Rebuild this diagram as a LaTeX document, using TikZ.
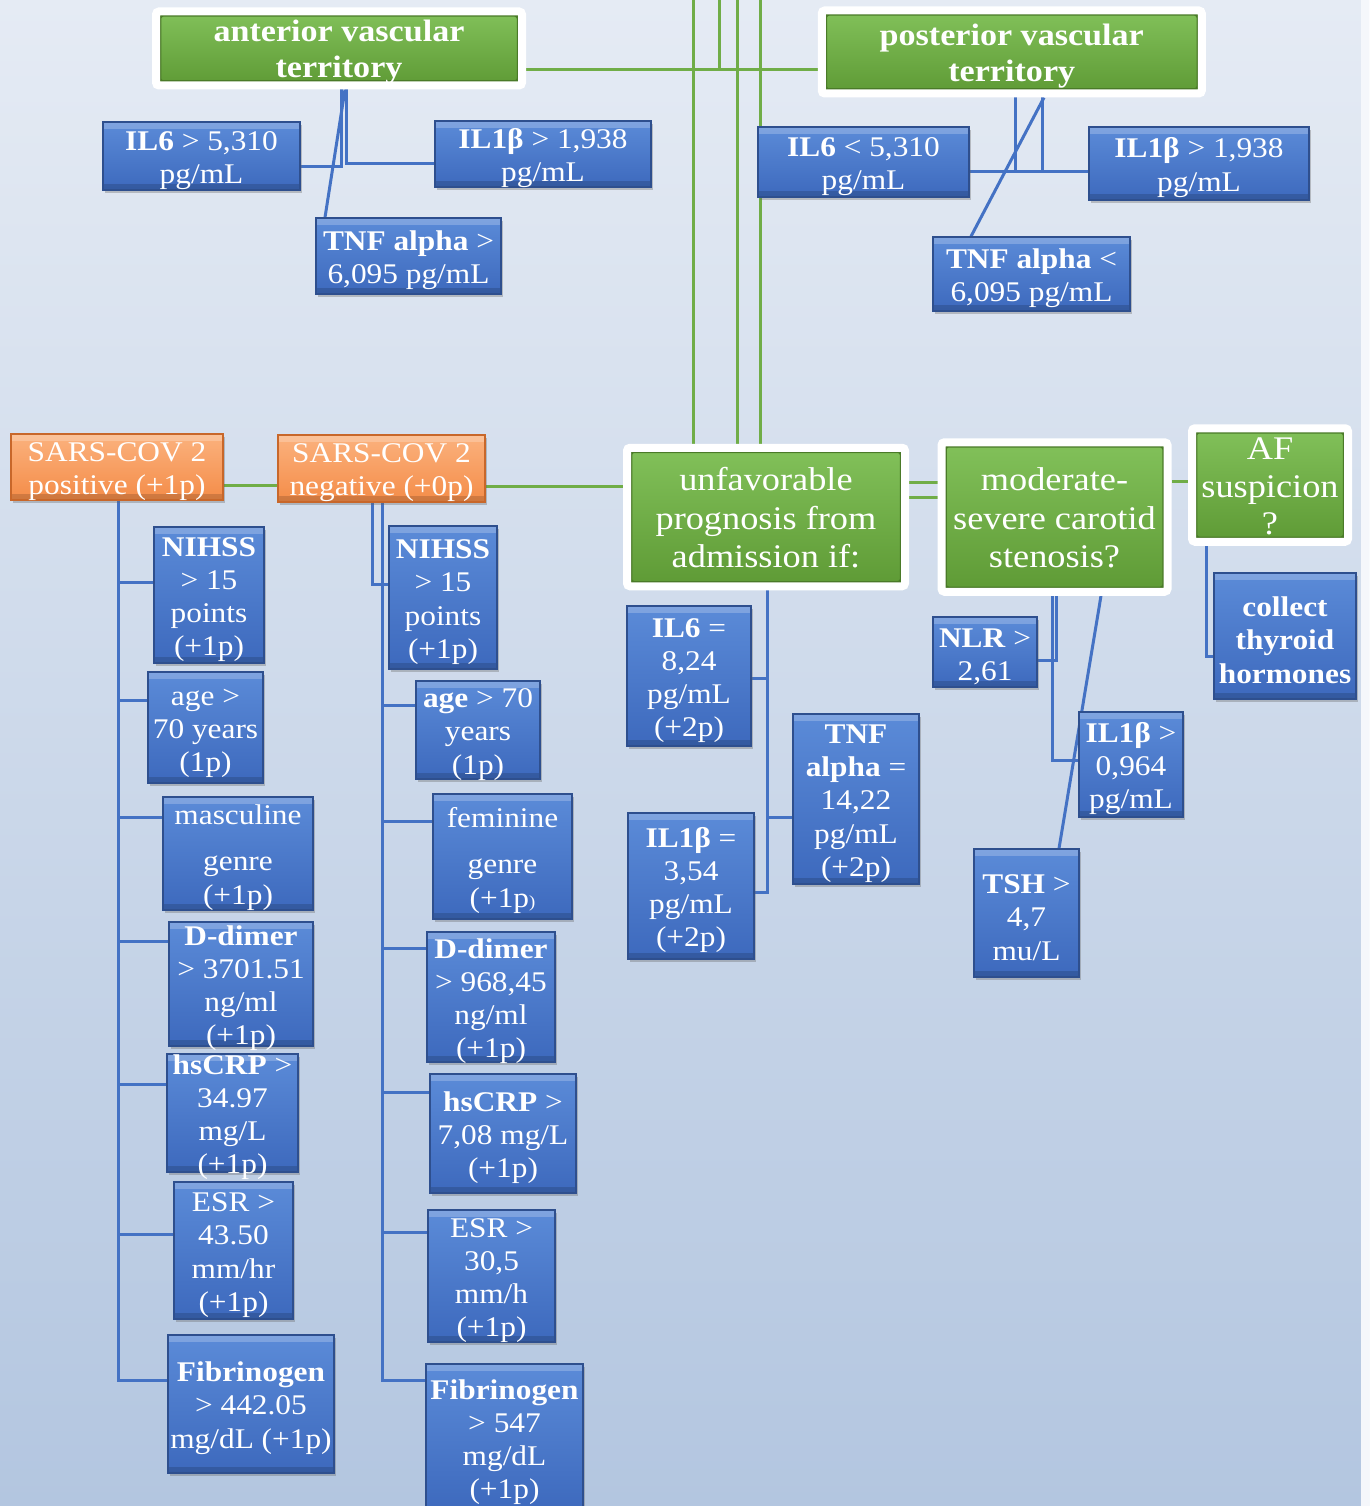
\documentclass[tikz,border=0pt]{standalone}
\usepackage{fontspec}
\setmainfont[FakeStretch=1.1]{Liberation Serif}
\usetikzlibrary{shadows}
\definecolor{bgtop}{HTML}{E5EBF4}
\definecolor{bgbot}{HTML}{B3C6E0}
\definecolor{bluetop}{HTML}{5B8BD8}
\definecolor{bluebot}{HTML}{3D69BD}
\definecolor{blueedge}{HTML}{2E4F8E}
\definecolor{blueline}{HTML}{4472C4}
\definecolor{greentop}{HTML}{82C15A}
\definecolor{greenbot}{HTML}{5E9A35}
\definecolor{greenedge}{HTML}{4A7A28}
\definecolor{greenline}{HTML}{70AD47}
\definecolor{orangetop}{HTML}{FBB27E}
\definecolor{orangebot}{HTML}{F48C48}
\definecolor{orangeedge}{HTML}{C8672A}
\newcommand{\bst}{\rule{0pt}{28pt}}
\newcommand{\gst}{\rule{0pt}{25pt}}
\pgfdeclarelayer{bgfill}
\pgfdeclarelayer{background}
\pgfsetlayers{bgfill,background,main}
\tikzset{
  box/.style={rectangle, inner sep=-12pt, align=center, text=white,
    drop shadow={shadow xshift=2pt, shadow yshift=-3pt, opacity=0.35, fill=black!60}},
  bevel/.style={path picture={
    \fill[white, opacity=0.22] (path picture bounding box.north west) rectangle ([yshift=-7pt]path picture bounding box.north east);
    \fill[black, opacity=0.15] (path picture bounding box.south west) rectangle ([yshift=6pt]path picture bounding box.south east);}},
  bluebox/.style={box, bevel, top color=bluetop, bottom color=bluebot, draw=blueedge, line width=1.2pt,
    font=\fontsize{28.5}{33.3}\selectfont},
  orangebox/.style={box, bevel, top color=orangetop, bottom color=orangebot, draw=orangeedge, line width=1.2pt,
    font=\fontsize{28.5}{33}\selectfont},
  greenbox/.style={box, top color=greentop, bottom color=greenbot, draw=white, line width=8pt, rounded corners=3pt,
    font=\fontsize{33}{38.5}\selectfont,
    path picture={\draw[greenedge, line width=2.5pt] ([shift={(4pt,-4pt)}]path picture bounding box.north west) rectangle ([shift={(-4pt,4pt)}]path picture bounding box.south east);}},
  bline/.style={draw=blueline, line width=3pt},
  gline/.style={draw=greenline, line width=3pt}
}
\begin{document}
\begin{tikzpicture}[x=1pt, y=-1pt]
\useasboundingbox (0,0) rectangle (1369,1506);
\begin{pgfonlayer}{bgfill}
  \shade[top color=bgtop, bottom color=bgbot] (0,0) rectangle (1369,1506);
  \fill[white!60!bgtop] (1361,0) rectangle (1369,1506);
\end{pgfonlayer}

% top green boxes
\node[greenbox, font=\bfseries\fontsize{31}{36}\selectfont, minimum width=366pt, minimum height=74pt] (ant) at (339,48.5) {\rule{0pt}{29pt}anterior vascular\\territory};
\node[greenbox, font=\bfseries\fontsize{31}{36}\selectfont, minimum width=380pt, minimum height=83pt] (post) at (1011.75,52) {\rule{0pt}{29pt}posterior vascular\\territory};

% top blue boxes
\node[bluebox, minimum width=197pt, minimum height=68pt] (il6a) at (201.5,156) {\bst\textbf{IL6} > 5,310\\pg/mL};
\node[bluebox, minimum width=216pt, minimum height=66pt] (il1a) at (543,154) {\bst\textbf{IL1β} > 1,938\\pg/mL};
\node[bluebox, minimum width=185pt, minimum height=76pt] (tnfa) at (408.5,256) {\bst\textbf{TNF alpha} >\\6,095 pg/mL};
\node[bluebox, minimum width=211pt, minimum height=70pt] (il6p) at (863.5,162) {\bst\textbf{IL6} < 5,310\\pg/mL};
\node[bluebox, minimum width=220pt, minimum height=73pt] (il1p) at (1199,163.5) {\bst\textbf{IL1β} > 1,938\\pg/mL};
\node[bluebox, minimum width=197pt, minimum height=74pt] (tnfp) at (1031.5,274) {\bst\textbf{TNF alpha} <\\6,095 pg/mL};

% middle row
\node[orangebox, minimum width=212pt, minimum height=66pt] (pos) at (117,467) {\bst SARS-COV 2\\positive (+1p)};
\node[orangebox, minimum width=207pt, minimum height=67pt] (neg) at (381.5,468.5) {\bst SARS-COV 2\\negative (+0p)};
\node[greenbox, minimum width=278pt, minimum height=138.5pt] (unf) at (766,517) {\gst unfavorable\\prognosis from\\admission if:};
\node[greenbox, minimum width=226pt, minimum height=149.5pt] (mod) at (1054.5,517) {\gst moderate-\\severe carotid\\stenosis?};
\node[greenbox, font=\fontsize{33}{37.5}\selectfont, minimum width=156pt, minimum height=113.5pt] (af) at (1270,485) {\gst AF\\suspicion\\?};

% below unfavorable
\node[bluebox, minimum width=124pt, minimum height=140pt] (il6u) at (689,676) {\bst\textbf{IL6} =\\8,24\\pg/mL\\(+2p)};
\node[bluebox, minimum width=126pt, minimum height=170pt] (tnfu) at (856,799) {\bst\textbf{TNF}\\\textbf{alpha} =\\14,22\\pg/mL\\(+2p)};
\node[bluebox, minimum width=126pt, minimum height=146pt] (il1u) at (691,886) {\bst\textbf{IL1β} =\\3,54\\pg/mL\\(+2p)};

% below moderate
\node[bluebox, minimum width=104pt, minimum height=70pt] (nlr) at (985,652) {\bst\textbf{NLR} >\\2,61};
\node[bluebox, minimum width=104pt, minimum height=105pt] (il1m) at (1131,764.5) {\bst\textbf{IL1β} >\\0,964\\pg/mL};
\node[bluebox, minimum width=105pt, minimum height=128pt] (tsh) at (1026.5,913) {\bst\textbf{TSH} >\\4,7\\mu/L};
\node[bluebox, font=\bfseries\fontsize{28.5}{33.3}\selectfont, minimum width=142pt, minimum height=126pt] (coll) at (1285,636) {\bst collect\\thyroid\\hormones};

% positive column
\node[bluebox, minimum width=110pt, minimum height=136pt] (nihss1) at (209,595) {\bst\textbf{NIHSS}\\> 15\\points\\(+1p)};
\node[bluebox, minimum width=115pt, minimum height=111pt] (age1) at (205.5,727.5) {\bst age >\\70 years\\(1p)};
\node[bluebox, minimum width=150pt, minimum height=113pt] (masc1) at (238,853.5) {\bst masculine\\[13pt]genre\\(+1p)};
\node[bluebox, minimum width=144pt, minimum height=124pt] (ddim1) at (241,984) {\bst\textbf{D-dimer}\\> 3701.51\\ng/ml\\(+1p)};
\node[bluebox, minimum width=131pt, minimum height=118pt] (hscrp1) at (232.5,1113) {\bst\textbf{hsCRP} >\\34.97\\mg/L\\(+1p)};
\node[bluebox, minimum width=119pt, minimum height=137pt] (esr1) at (233.5,1250.5) {\bst ESR >\\43.50\\mm/hr\\(+1p)};
\node[bluebox, minimum width=166pt, minimum height=138pt] (fib1) at (251,1404) {\bst\textbf{Fibrinogen}\\> 442.05\\mg/dL (+1p)};

% negative column
\node[bluebox, minimum width=108pt, minimum height=143pt] (nihss2) at (443,597.5) {\bst\textbf{NIHSS}\\> 15\\points\\(+1p)};
\node[bluebox, minimum width=124pt, minimum height=98pt] (age2) at (478,730) {\bst\textbf{age} > 70\\years\\(1p)};
\node[bluebox, minimum width=139pt, minimum height=125pt] (fem2) at (502.5,856.5) {\bst feminine\\[13pt]genre\\(+1p{\fontsize{17}{17}\selectfont)}};
\node[bluebox, minimum width=128pt, minimum height=130pt] (ddim2) at (491,997) {\bst\textbf{D-dimer}\\> 968,45\\ng/ml\\(+1p)};
\node[bluebox, minimum width=146pt, minimum height=119pt] (hscrp2) at (503,1133.5) {\bst\textbf{hsCRP} >\\7,08 mg/L\\(+1p)};
\node[bluebox, minimum width=127pt, minimum height=132pt] (esr2) at (491.5,1276) {\bst ESR >\\30,5\\mm/h\\(+1p)};
\node[bluebox, minimum width=157pt, minimum height=148pt] (fib2) at (504.5,1438) {\bst\textbf{Fibrinogen}\\> 547\\mg/dL\\(+1p)};

\begin{pgfonlayer}{background}
  % green connectors
  \coordinate (g1) at (693,0);
  \coordinate (g2) at (719,0);
  \coordinate (g3) at (737,0);
  \coordinate (g4) at (760,0);
  \coordinate (g2e) at (719,70);
  \draw[gline] (g1) -- (g1 |- unf.north);
  \draw[gline] (g3) -- (g3 |- unf.north);
  \draw[gline] (g4) -- (g4 |- unf.north);
  \draw[gline] (g2) -- (g2e);
  \draw[gline] (ant.east |- g2e) -- (post.west |- g2e);
  \coordinate (ya) at (0,485);
  \coordinate (yb) at (0,486);
  \coordinate (yc) at (0,482);
  \coordinate (yd) at (0,497);
  \coordinate (ye) at (0,481);
  \draw[gline] (pos.east |- ya) -- (neg.west |- ya);
  \draw[gline] (neg.east |- yb) -- (unf.west |- yb);
  \draw[gline] (unf.east |- yc) -- (mod.west |- yc);
  \draw[gline] (unf.east |- yd) -- (mod.west |- yd);
  \draw[gline] (mod.east |- ye) -- (af.west |- ye);

  % anterior
  \coordinate (a1) at (341,167);
  \coordinate (a2) at (346,164);
  \coordinate (a3) at (345,0);
  \coordinate (a4) at (325,0);
  \draw[bline] (ant.south -| a1) -- (a1) -- (il6a.east |- a1);
  \draw[bline] (ant.south -| a2) -- (a2) -- (il1a.west |- a2);
  \draw[bline] (ant.south -| a3) -- (tnfa.north -| a4);

  % posterior
  \coordinate (p1) at (1042,172);
  \coordinate (p2) at (1015,172);
  \coordinate (p3) at (1044,0);
  \coordinate (p4) at (971,0);
  \draw[bline] (post.south -| p1) -- (p1) -- (il6p.east |- p1);
  \draw[bline] (post.south -| p2) -- (p2) -- (il1p.west |- p2);
  \draw[bline] (post.south -| p3) -- (tnfp.north -| p4);

  % positive column
  \foreach \n/\y in {nihss1/582, age1/700, masc1/817, ddim1/941, hscrp1/1084, esr1/1234, fib1/1380} {
    \coordinate (t) at (118,\y);
    \draw[bline] (pos.south -| t) -- (t) -- (\n.west |- t);
  }
  % negative column
  \coordinate (n0) at (372,584);
  \draw[bline] (neg.south -| n0) -- (n0) -- (nihss2.west |- n0);
  \foreach \n/\y in {age2/705, fem2/821, ddim2/948, hscrp2/1092, esr2/1232, fib2/1380} {
    \coordinate (t) at (382,\y);
    \draw[bline] (neg.south -| t) -- (t) -- (\n.west |- t);
  }
  % unfavorable
  \foreach \n/\a/\y in {il6u/east/678, tnfu/west/817, il1u/east/892} {
    \coordinate (t) at (767,\y);
    \draw[bline] (unf.south -| t) -- (t) -- (\n.\a |- t);
  }
  % moderate
  \coordinate (m1) at (1056,660);
  \coordinate (m2) at (1052,760);
  \coordinate (m3) at (1101,0);
  \coordinate (m4) at (1059,0);
  \draw[bline] (mod.south -| m1) -- (m1) -- (nlr.east |- m1);
  \draw[bline] (mod.south -| m2) -- (m2) -- (il1m.west |- m2);
  \draw[bline] (mod.south -| m3) -- (tsh.north -| m4);
  % AF
  \coordinate (f1) at (1206,656);
  \draw[bline] (af.south -| f1) -- (f1) -- (coll.west |- f1);
\end{pgfonlayer}
\end{tikzpicture}
\end{document}
